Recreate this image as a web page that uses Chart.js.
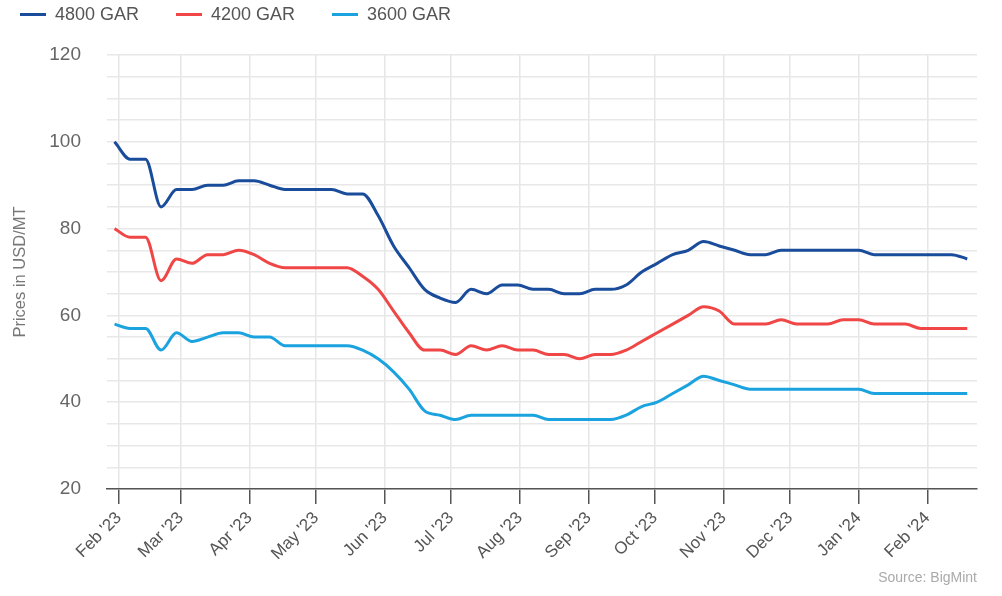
<!DOCTYPE html>
<html>
<head>
<meta charset="utf-8">
<title>Coal prices</title>
<script src="https://cdn.jsdelivr.net/npm/chart.js@4.4.1/dist/chart.umd.min.js"></script>
<style>
body { margin: 0; background: #fff; font-family: "Liberation Sans", Arial, sans-serif; }
#wrap { position: relative; width: 1002px; height: 596px; }
#legend { position: absolute; left: 20px; top: 4px; display: flex; }
.item { width: 156px; display: flex; align-items: center; font-size: 18px; line-height: 20px; color: #555; }
.item .line { display: inline-block; width: 26px; height: 3px; margin-right: 9px; }
#source { position: absolute; right: 25px; top: 569px; font-size: 14px; line-height: 16px; color: #aaa; }
</style>
</head>
<body>
<div id="wrap">
  <canvas id="chart"></canvas>
  <div id="legend"></div>
  <div id="source">Source: BigMint</div>
</div>
<script>
// weekly price dates
const dates = [
    '2023-01-30', '2023-02-06', '2023-02-13', '2023-02-20', '2023-02-27',
    '2023-03-06', '2023-03-13', '2023-03-20', '2023-03-27',
    '2023-04-03', '2023-04-10', '2023-04-17', '2023-04-24',
    '2023-05-01', '2023-05-08', '2023-05-15', '2023-05-22', '2023-05-29',
    '2023-06-05', '2023-06-12', '2023-06-19', '2023-06-26',
    '2023-07-03', '2023-07-10', '2023-07-17', '2023-07-24', '2023-07-31',
    '2023-08-07', '2023-08-14', '2023-08-21', '2023-08-28',
    '2023-09-04', '2023-09-11', '2023-09-18', '2023-09-25',
    '2023-10-02', '2023-10-09', '2023-10-16', '2023-10-23', '2023-10-30',
    '2023-11-06', '2023-11-13', '2023-11-20', '2023-11-27',
    '2023-12-04', '2023-12-11', '2023-12-18', '2023-12-25',
    '2024-01-01', '2024-01-08', '2024-01-15', '2024-01-22', '2024-01-29',
    '2024-02-05', '2024-02-12', '2024-02-19'
]
const gar4800 = [
    100, 96, 96, 85, 89, 89, 90, 90, 91, 91, 90, 89, 89, 89, 89, 88, 88, 83,
    76, 71, 66, 64, 63, 66, 65, 67, 67, 66, 66, 65, 65, 66, 66, 67, 70, 72,
    74, 75, 77, 76, 75, 74, 74, 75, 75, 75, 75, 75, 75, 74, 74, 74, 74, 74,
    74, 73
]
const gar4200 = [
    80, 78, 78, 68, 73, 72, 74, 74, 75, 74, 72, 71, 71, 71, 71, 71, 69, 66,
    61, 56, 52, 52, 51, 53, 52, 53, 52, 52, 51, 51, 50, 51, 51, 52, 54, 56,
    58, 60, 62, 61, 58, 58, 58, 59, 58, 58, 58, 59, 59, 58, 58, 58, 57, 57,
    57, 57
]
const gar3600 = [
    58, 57, 57, 52, 56, 54, 55, 56, 56, 55, 55, 53, 53, 53, 53, 53, 52, 50,
    47, 43, 38, 37, 36, 37, 37, 37, 37, 37, 36, 36, 36, 36, 36, 37, 39, 40,
    42, 44, 46, 45, 44, 43, 43, 43, 43, 43, 43, 43, 43, 42, 42, 42, 42, 42,
    42, 42
]
const seriesNames = ['4800 GAR', '4200 GAR', '3600 GAR']
const seriesColors = ['#1a4c9c', '#f04646', '#1ba3df']

const tickDates = [
    '2023-02-01', '2023-03-01', '2023-04-01', '2023-05-01', '2023-06-01',
    '2023-07-01', '2023-08-01', '2023-09-01', '2023-10-01', '2023-11-01',
    '2023-12-01', '2024-01-01', '2024-02-01'
]
const tickLabels = [
    "Feb '23", "Mar '23", "Apr '23", "May '23", "Jun '23", "Jul '23", "Aug '23",
    "Sep '23", "Oct '23", "Nov '23", "Dec '23", "Jan '24", "Feb '24"
]

function toDay(s) {
    return Date.UTC(+s.slice(0, 4), +s.slice(5, 7) - 1, +s.slice(8, 10)) / 86400000
}

function points(values) {
    let res = []
    for (let i = 0; i < values.length; i++) {
        res.push({ x: toDay(dates[i]), y: values[i] })
    }
    return res
}

const allSeries = [gar4800, gar4200, gar3600]
let datasets = []
for (let i = 0; i < allSeries.length; i++) {
    datasets.push({
        label: seriesNames[i],
        data: points(allSeries[i]),
        borderColor: seriesColors[i],
        backgroundColor: seriesColors[i],
        borderWidth: 3,
        pointRadius: 0,
        cubicInterpolationMode: 'monotone'
    })
}

// legend as plain html
const legend = document.getElementById('legend')
for (let i = 0; i < seriesNames.length; i++) {
    let item = document.createElement('div')
    item.className = 'item'
    item.innerHTML = '<span class="line" style="background:' + seriesColors[i] + '"></span>' + seriesNames[i]
    legend.appendChild(item)
}

const firstTick = toDay(tickDates[0])

Chart.defaults.font.family = "'Liberation Sans', Arial, sans-serif"

new Chart(document.getElementById('chart'), {
    type: 'line',
    data: { datasets: datasets },
    options: {
        responsive: true,
        maintainAspectRatio: false,
        animation: false,
        layout: { padding: { top: 55, right: 25, left: 0, bottom: 0 } },
        plugins: {
            legend: { display: false },
            tooltip: { enabled: false }
        },
        scales: {
            x: {
                type: 'linear',
                min: firstTick - 5.4,
                max: firstTick + 387.4,
                afterBuildTicks: function(scale) {
                    scale.ticks = tickDates.map(d => ({ value: toDay(d) }))
                },
                afterFit: function(scale) { scale.height = 107 },
                ticks: {
                    autoSkip: false,
                    minRotation: 45,
                    maxRotation: 45,
                    color: '#555',
                    padding: 4,
                    font: { size: 17 },
                    callback: (v, i) => tickLabels[i]
                },
                grid: { color: '#e6e6e6', tickColor: '#555', tickLength: 15, lineWidth: 1.5 },
                border: { color: '#555', width: 1.5 }
            },
            y: {
                min: 20,
                max: 120,
                afterFit: function(scale) { scale.width = 107 },
                ticks: {
                    stepSize: 5,
                    autoSkip: false,
                    color: '#666',
                    padding: 26,
                    font: { size: 19 },
                    callback: v => (v % 20 === 0 ? v : '')
                },
                grid: { color: '#e8e8e8', drawTicks: false, lineWidth: 1.5 },
                border: { display: false },
                title: {
                    display: true,
                    text: 'Prices in USD/MT',
                    color: '#777',
                    font: { size: 16.5 },
                    padding: { top: 11, bottom: 0 }
                }
            }
        }
    }
})
</script>
</body>
</html>
